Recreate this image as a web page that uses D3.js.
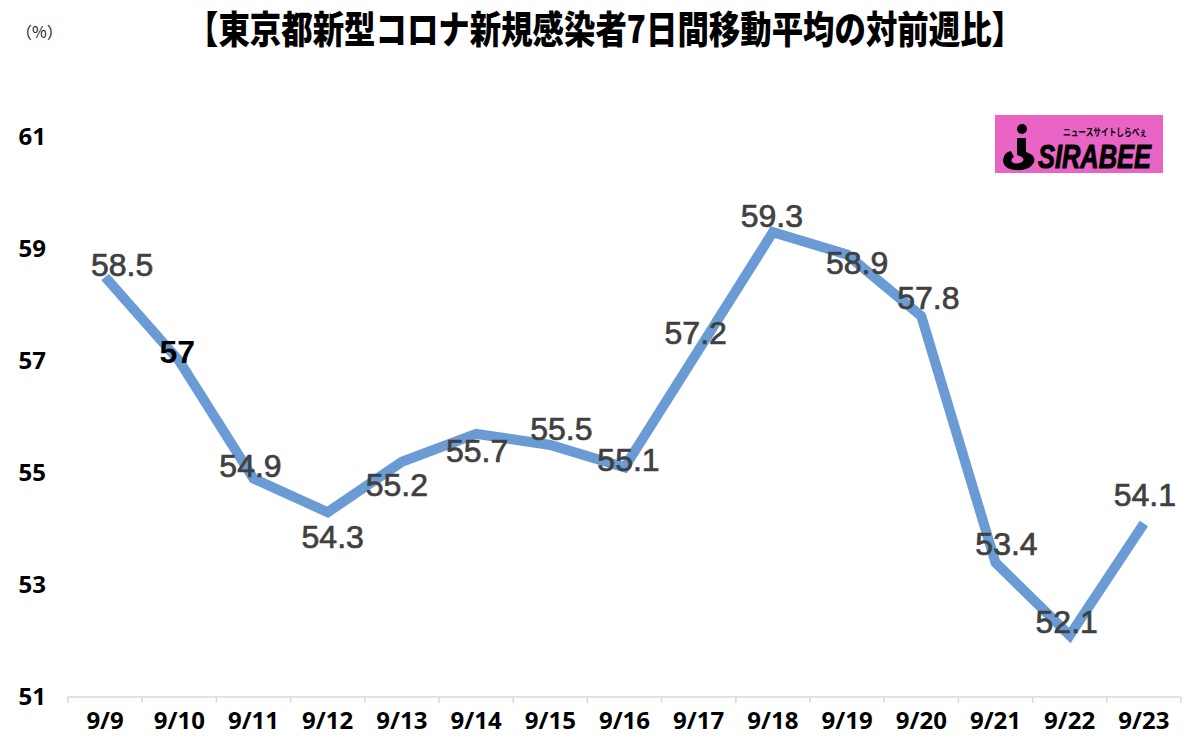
<!DOCTYPE html>
<html>
<head>
<meta charset="utf-8">
<script src="https://cdn.jsdelivr.net/npm/d3@7"></script>
<style>
  html, body { margin: 0; padding: 0; background: #ffffff; }
  svg { display: block; }
</style>
</head>
<body>
<svg id="chart" width="1200" height="743"></svg>
<script>
// ---- data ----
const dates = ["9/9","9/10","9/11","9/12","9/13","9/14","9/15","9/16","9/17","9/18","9/19","9/20","9/21","9/22","9/23"];
const values = [58.5, 57, 54.9, 54.3, 55.2, 55.7, 55.5, 55.1, 57.2, 59.3, 58.9, 57.8, 53.4, 52.1, 54.1];
const labels = ["58.5","57","54.9","54.3","55.2","55.7","55.5","55.1","57.2","59.3","58.9","57.8","53.4","52.1","54.1"];
const yTicks = [51, 53, 55, 57, 59, 61];
const titleText = "【東京都新型コロナ新規感染者7日間移動平均の対前週比】";
const unitText = "（%）";

// ---- style: label placement offsets (dx, dy) relative to each point ----
const labelOffsets = [[17,-12],[-2,-9],[-3,-13],[5,25],[-5,23],[1,17],[11,-16],[4,-7],[-3,-17],[-1,-16],[10,8],[7,-18],[11,-19],[-3,-13],[1,-28]];

const svg = d3.select("#chart");

const x = d3.scaleBand().domain(dates).range([68, 1181]);
const y = d3.scaleLinear().domain([51, 61]).range([697, 137]);

// title
svg.append("text")
  .attr("x", 605).attr("y", 43)
  .attr("text-anchor", "middle")
  .attr("textLength", 836)
  .attr("lengthAdjust", "spacingAndGlyphs")
  .style("font-family", "'Noto Sans CJK JP', sans-serif")
  .style("font-weight", 900)
  .style("font-size", "38px")
  .attr("fill", "#000")
  .text(titleText);

// unit
svg.append("text")
  .attr("x", 16).attr("y", 38)
  .style("font-family", "'Noto Sans CJK JP', sans-serif")
  .style("font-size", "16px")
  .attr("fill", "#222")
  .text(unitText);

// y axis labels
const yAxis = d3.axisLeft(y).tickValues(yTicks).tickSize(0).tickPadding(0).tickFormat(d3.format("d"));
const gy = svg.append("g").attr("transform", "translate(46,0)").call(yAxis);
gy.select(".domain").remove();
gy.selectAll("text")
  .style("font-family", "'Noto Sans', sans-serif")
  .style("font-weight", 700)
  .style("font-size", "24px")
  .attr("fill", "#000");

// x axis line and boundary ticks
const axisY = y(51);
svg.append("line")
  .attr("x1", x.range()[0]).attr("x2", x.range()[1])
  .attr("y1", axisY).attr("y2", axisY)
  .attr("stroke", "#d9d9d9").attr("stroke-width", 1.5);
const bounds = dates.map(d => x(d)).concat([x.range()[1]]);
svg.append("g").selectAll("line").data(bounds).join("line")
  .attr("x1", d => d).attr("x2", d => d)
  .attr("y1", axisY).attr("y2", axisY + 6)
  .attr("stroke", "#d9d9d9").attr("stroke-width", 1.5);

const xAxis = d3.axisBottom(x).tickSize(0).tickPadding(0).tickSizeOuter(0);
const gx = svg.append("g").attr("transform", `translate(0,${axisY + 24})`).call(xAxis);
gx.select(".domain").remove();
gx.selectAll("text")
  .attr("dy", "0.32em")
  .style("font-family", "'Noto Sans', sans-serif")
  .style("font-weight", 700)
  .style("font-size", "24px")
  .attr("fill", "#000");

// line
const line = d3.line()
  .x((d, i) => x(dates[i]) + x.bandwidth() / 2)
  .y(d => y(d));
svg.append("path")
  .datum(values)
  .attr("d", line)
  .attr("fill", "none")
  .attr("stroke", "#6a9bd5")
  .attr("stroke-width", 10)
  .attr("stroke-linejoin", "miter")
  .attr("stroke-linecap", "butt");

// data labels
svg.append("g").selectAll("text").data(values).join("text")
  .attr("x", (d, i) => x(dates[i]) + x.bandwidth() / 2 + labelOffsets[i][0])
  .attr("y", (d, i) => y(d) + labelOffsets[i][1])
  .attr("text-anchor", "middle")
  .attr("dominant-baseline", "central")
  .style("font-family", "'Liberation Sans', Arial, sans-serif")
  .style("font-size", "32px")
  .attr("fill", (d, i) => i === 1 ? "#000" : "#404040")
  .attr("stroke", (d, i) => i === 1 ? "#000" : "#404040")
  .attr("stroke-width", (d, i) => i === 1 ? 0 : 0.7)
  .style("font-weight", (d, i) => i === 1 ? 700 : 400)
  .text((d, i) => labels[i]);

// logo
const logo = svg.append("g");
logo.append("rect").attr("x", 995).attr("y", 115).attr("width", 168).attr("height", 58).attr("fill", "#e964c4");
logo.append("circle").attr("cx", 1022).attr("cy", 129).attr("r", 5).attr("fill", "#000");
logo.append("path")
  .attr("d", "M1017,138 L1026,138 L1026,152 Q1038,156 1033,164 Q1028,171 1016,170 Q1003,169 1003,160 Q1004,152 1011,151 L1014,157 Q1010,159 1012,162 Q1016,165 1022,162 Q1026,159 1020,156 L1017,155 Z")
  .attr("fill", "#000");
logo.append("text")
  .attr("x", 1038).attr("y", 168)
  .style("font-family", "'Liberation Sans', Arial, sans-serif")
  .style("font-weight", 700)
  .style("font-style", "italic")
  .style("font-size", "33px")
  .attr("textLength", 113)
  .attr("lengthAdjust", "spacingAndGlyphs")
  .attr("stroke", "#000").attr("stroke-width", 1)
  .attr("fill", "#000")
  .text("SIRABEE");
logo.append("text")
  .attr("x", 1063).attr("y", 136)
  .style("font-family", "'Noto Sans CJK JP', sans-serif")
  .style("font-weight", 700)
  .style("font-size", "10px")
  .attr("textLength", 84)
  .attr("lengthAdjust", "spacingAndGlyphs")
  .attr("fill", "#000")
  .text("ニュースサイトしらべぇ");
</script>
</body>
</html>
